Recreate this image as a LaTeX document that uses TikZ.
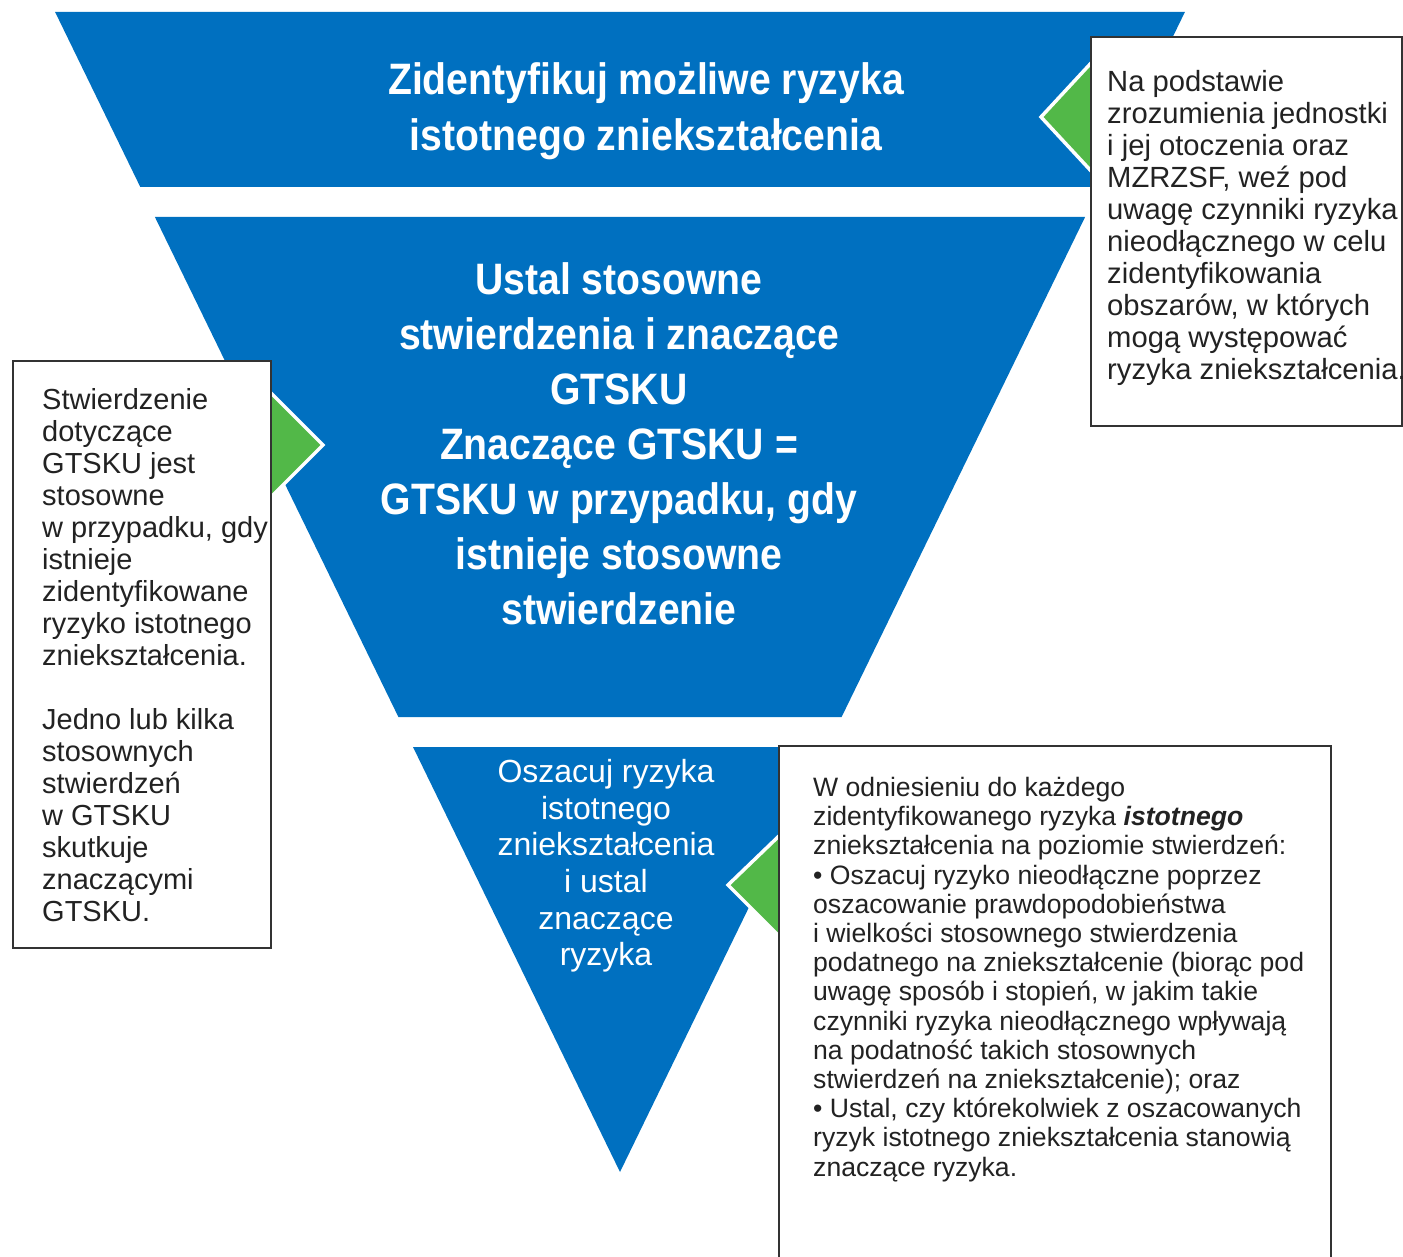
\documentclass[tikz,border=0pt]{standalone}
\usepackage{fontspec}
\setmainfont{Liberation Sans}
\newfontfamily\condb[FakeStretch=0.89]{Liberation Sans}
\definecolor{fblue}{HTML}{0070C0}
\definecolor{fgreen}{HTML}{52B848}
\definecolor{bord}{HTML}{333333}
\definecolor{btext}{HTML}{222222}
\begin{document}
\begin{tikzpicture}[x=1pt,y=-1pt,
  blueshape/.style={fill=fblue},
  greenarr/.style={fill=fgreen,draw=white,line width=3.5pt,line join=miter},
  infobox/.style={fill=white,draw=bord,line width=2pt},
  boxtext/.style={anchor=north west,inner sep=0pt,align=left,text=btext},
  bigtitle/.style={anchor=center,inner sep=0pt,align=center,text=white,font=\condb\bfseries\fontsize{44}{56}\selectfont},
]
\useasboundingbox (0,0) rectangle (1403,1257);
% funnel segments
\fill[blueshape] (55.1,12) -- (1184.9,12) -- (1099.7,187) -- (140.3,187) -- cycle;
\fill[blueshape] (154.9,217) -- (1085.1,217) -- (841.6,717) -- (398.4,717) -- cycle;
\fill[blueshape] (413,747) -- (827,747) -- (620,1172) -- cycle;
% green arrows
\filldraw[greenarr] (1041,117) -- (1092,62) -- (1092,172) -- cycle;
\filldraw[greenarr] (323,445) -- (270,392) -- (270,498) -- cycle;
\filldraw[greenarr] (728,885) -- (780,835) -- (780,937) -- cycle;
% boxes
\filldraw[infobox] (1091,37) rectangle (1402,426);
\filldraw[infobox] (13,361) rectangle (271,948);
\fill[white] (779,746) rectangle (1331,1260);
\draw[bord,line width=2pt] (779,1260) -- (779,746) -- (1331,746) -- (1331,1260);
% texts
\node[bigtitle] (t1) at (646,111) {Zidentyfikuj możliwe ryzyka\\istotnego zniekształcenia};
\node[bigtitle,font=\condb\bfseries\fontsize{44}{55}\selectfont] (t2) at (619,444) {Ustal stosowne\\stwierdzenia i znaczące\\GTSKU\\Znaczące GTSKU =\\GTSKU w przypadku, gdy\\istnieje stosowne\\stwierdzenie};
\node[anchor=center,inner sep=0pt,align=center,text=white,font=\fontsize{32}{36.6}\selectfont] (t3) at (606,866) {Oszacuj ryzyka\\istotnego\\zniekształcenia\\i ustal\\znaczące\\ryzyka};
\node[boxtext,font=\fontsize{29.2}{32}\selectfont] (rt) at (1107,70) {Na podstawie\\zrozumienia jednostki\\i jej otoczenia oraz\\MZRZSF, weź pod\\uwagę czynniki ryzyka\\nieodłącznego w celu\\zidentyfikowania\\obszarów, w których\\mogą występować\\ryzyka zniekształcenia.};
\node[boxtext,font=\fontsize{29}{32}\selectfont] (lt) at (42,388) {Stwierdzenie\\dotyczące\\GTSKU jest\\stosowne\\w przypadku, gdy\\istnieje\\zidentyfikowane\\ryzyko istotnego\\zniekształcenia.\\[32pt]Jedno lub kilka\\stosownych\\stwierdzeń\\w GTSKU\\skutkuje\\znaczącymi\\GTSKU.};
\node[boxtext,font=\fontsize{26.6}{29.2}\selectfont] (bt) at (813,777) {W odniesieniu do każdego\\zidentyfikowanego ryzyka \textbf{\textit{istotnego}}\\zniekształcenia na poziomie stwierdzeń:\\• Oszacuj ryzyko nieodłączne poprzez\\oszacowanie prawdopodobieństwa\\i wielkości stosownego stwierdzenia\\podatnego na zniekształcenie (biorąc pod\\uwagę sposób i stopień, w jakim takie\\czynniki ryzyka nieodłącznego wpływają\\na podatność takich stosownych\\stwierdzeń na zniekształcenie); oraz\\• Ustal, czy którekolwiek z oszacowanych\\ryzyk istotnego zniekształcenia stanowią\\znaczące ryzyka.};
\end{tikzpicture}
\end{document}
